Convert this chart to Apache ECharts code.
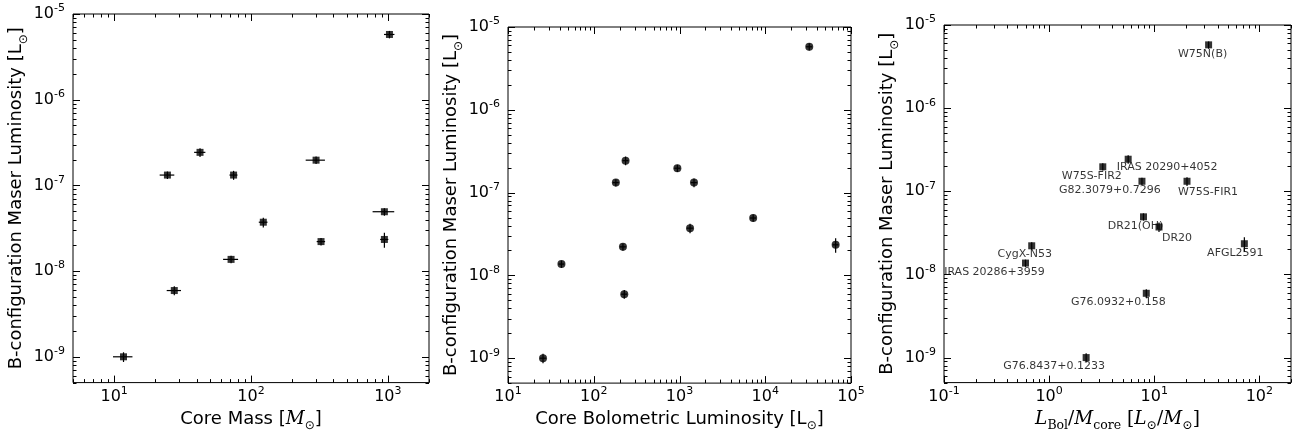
<!DOCTYPE html>
<html><head><meta charset="utf-8">
<script src="https://cdn.jsdelivr.net/npm/echarts@6/dist/echarts.min.js"></script>
<style>html,body{margin:0;padding:0;background:#fff}#c{width:1303px;height:437px}</style>
</head><body><div id="c"></div>
<script>
// ---- data ----
const names = ['W75N(B)','IRAS 20290+4052','W75S-FIR2','G82.3079+0.7296','W75S-FIR1','DR21(OH)','DR20','AFGL2591','CygX-N53','IRAS 20286+3959','G76.0932+0.158','G76.8437+0.1233'];
const coreMass    = [1028, 42.4, 299, 24.5, 74.6, 944, 123, 944, 325, 71.5, 27.5, 11.7];
const coreMassErr = [90, 4, 48, 3, 5, 170, 9, 65, 23, 9, 3.3, 1.9];
const coreLbol    = [32600, 235, 944, 181, 1476, 7230, 1327, 66200, 219, 42, 227, 25.6];
const coreLbolErrFrac = [0.08, 0.08, 0.08, 0.08, 0.08, 0.08, 0.08, 0.08, 0.08, 0.08, 0.08, 0.08];
const lbolPerMass = [32.9, 5.65, 3.24, 7.64, 20.5, 7.9, 11.1, 72, 0.683, 0.596, 8.4, 2.25];
const maserLum    = [5.77e-6, 2.43e-7, 1.97e-7, 1.32e-7, 1.32e-7, 4.93e-8, 3.72e-8, 2.34e-8, 2.21e-8, 1.37e-8, 5.93e-9, 1.0e-9];
const maserLumErrFrac = [0.1, 0.12, 0.1, 0.1, 0.12, 0.1, 0.13, 0.2, 0.1, 0.1, 0.12, 0.13];
const yRange  = [5e-10, 1e-5];
const xRange1 = [5, 2000];
const xRange2 = [10, 1e5];
const xRange3 = [0.1, 200];

// ---- styling / layout ----
const labelOffsets = [[-6,9],[39,8],[-11,9],[-32,9],[21,11],[-8,9],[18,11],[-9,9],[-7,8],[-31,9],[-28,9],[-32,9]];
const SANS = 'DejaVu Sans', SERIF = 'DejaVu Serif';
const grids = [
  {left: 73, top: 14, width: 356, height: 373},
  {left: 508, top: 27, width: 343, height: 357},
  {left: 944, top: 25, width: 347, height: 363}
];

function powLabel(v){
  const e = Math.log10(v), r = Math.round(e);
  if (Math.abs(e - r) > 1e-6) return '';
  return '{b|10}{s|' + r + '}';
}
const tickRich = {
  b: {fontFamily: SANS, fontSize: 16, color: '#000', lineHeight: 22},
  s: {fontFamily: SANS, fontSize: 11, color: '#000', lineHeight: 12, verticalAlign: 'top'}
};
const titleRich = {
  t: {fontFamily: SANS, fontSize: 18, color: '#000', lineHeight: 26},
  mi: {fontFamily: SERIF, fontStyle: 'italic', fontSize: 18.5, color: '#000', lineHeight: 26},
  mr: {fontFamily: SERIF, fontSize: 18.5, color: '#000', lineHeight: 26},
  sub: {fontFamily: SANS, fontSize: 12, color: '#000', lineHeight: 12, verticalAlign: 'bottom'},
  subs: {fontFamily: SERIF, fontSize: 12.5, color: '#000', lineHeight: 12, verticalAlign: 'bottom'}
};

function xAxisDef(gi, r, name, gap){
  return {type: 'log', logBase: 10, gridIndex: gi, min: r[0], max: r[1],
    axisLine: {show: false}, axisTick: {show: false}, splitLine: {show: false}, minorTick: {show: false},
    axisLabel: {formatter: powLabel, rich: tickRich, margin: 3, showMinLabel: true, showMaxLabel: true},
    name: name, nameLocation: 'middle', nameGap: gap, nameTextStyle: {rich: titleRich}};
}
function yAxisDef(gi, name, gap){
  return {type: 'log', logBase: 10, gridIndex: gi, min: yRange[0], max: yRange[1],
    axisLine: {show: false}, axisTick: {show: false}, splitLine: {show: false},
    axisLabel: {formatter: powLabel, rich: tickRich, margin: 8},
    name: name, nameLocation: 'middle', nameGap: gap, nameRotate: 90, nameTextStyle: {rich: titleRich}};
}

function logTicks(r){
  const out = [];
  for (let k = Math.floor(Math.log10(r[0])) - 1; k <= Math.ceil(Math.log10(r[1])); k++) {
    for (let m = 1; m <= 9; m++) {
      const v = m * Math.pow(10, k);
      if (v >= r[0] * (1 - 1e-9) && v <= r[1] * (1 + 1e-9)) out.push([v, m === 1 ? 1 : 0]);
    }
  }
  return out;
}
function tickSeries(gi, xr, yr){
  const data = [];
  logTicks(xr).forEach(t => data.push([t[0], yr[0], 0, t[1]]));
  logTicks(yr).forEach(t => data.push([xr[0], t[0], 1, t[1]]));
  return {type: 'custom', xAxisIndex: gi, yAxisIndex: gi, clip: false, silent: true, z: 3, data: data,
    renderItem: function(params, api){
      const kind = api.value(2), major = api.value(3);
      const len = major ? 7 : 3.5;
      const p0 = api.coord([xr[0], yr[0]]), p1 = api.coord([xr[1], yr[1]]);
      const st = {stroke: '#000', lineWidth: 1};
      if (kind === 0) {
        const x = Math.round(api.coord([api.value(0), yr[0]])[0]) + 0.5;
        return {type: 'group', children: [
          {type: 'line', shape: {x1: x, y1: p0[1], x2: x, y2: p0[1] - len}, style: st},
          {type: 'line', shape: {x1: x, y1: p1[1], x2: x, y2: p1[1] + len}, style: st}]};
      } else {
        const y = Math.round(api.coord([xr[0], api.value(1)])[1]) + 0.5;
        return {type: 'group', children: [
          {type: 'line', shape: {x1: p0[0], y1: y, x2: p0[0] + len, y2: y}, style: st},
          {type: 'line', shape: {x1: p1[0], y1: y, x2: p1[0] - len, y2: y}, style: st}]};
      }
    }};
}
function errSeries(gi, xs, xlo, xhi, ys, ylo, yhi){
  const data = xs.map((x, i) => [x, ys[i], xlo[i], xhi[i], ylo[i], yhi[i]]);
  return {type: 'custom', xAxisIndex: gi, yAxisIndex: gi, clip: false, silent: true, z: 4, data: data,
    renderItem: function(params, api){
      const x = api.value(0), y = api.value(1);
      const st = {stroke: '#000', lineWidth: 1.2};
      const a = api.coord([api.value(2), y]), b = api.coord([api.value(3), y]);
      const c = api.coord([x, api.value(4)]), d = api.coord([x, api.value(5)]);
      return {type: 'group', children: [
        {type: 'line', shape: {x1: a[0], y1: a[1], x2: b[0], y2: b[1]}, style: st},
        {type: 'line', shape: {x1: c[0], y1: c[1], x2: d[0], y2: d[1]}, style: st}]};
    }};
}

const yLo = maserLum.map((v, i) => v * (1 - maserLumErrFrac[i]));
const yHi = maserLum.map((v, i) => v * (1 + maserLumErrFrac[i]));
const yTitle = '{t|B-configuration Maser Luminosity [L}{sub|⊙}{t|]}';

const option = {
  animation: false,
  backgroundColor: '#fff',
  grid: grids.map(g => Object.assign({show: true, borderColor: '#000', borderWidth: 1, backgroundColor: 'transparent'}, g)),
  xAxis: [
    xAxisDef(0, xRange1, '{t|Core Mass [}{mi|M}{sub|⊙}{t|]}', 22),
    xAxisDef(1, xRange2, '{t|Core Bolometric Luminosity [L}{sub|⊙}{t|]}', 22),
    xAxisDef(2, xRange3, '{mi|L}{subs|Bol}{mr|/}{mi|M}{subs|core}{mr| [}{mi|L}{subs|⊙}{mr|/}{mi|M}{subs|⊙}{mr|]}', 22)
  ],
  yAxis: [yAxisDef(0, yTitle, 42), yAxisDef(1, yTitle, 42), yAxisDef(2, yTitle, 42)],
  series: [
    tickSeries(0, xRange1, yRange), tickSeries(1, xRange2, yRange), tickSeries(2, xRange3, yRange),
    errSeries(0, coreMass, coreMass.map((v, i) => v - coreMassErr[i]), coreMass.map((v, i) => v + coreMassErr[i]), maserLum, yLo, yHi),
    errSeries(1, coreLbol, coreLbol.map((v, i) => v * (1 - coreLbolErrFrac[i])), coreLbol.map((v, i) => v * (1 + coreLbolErrFrac[i])), maserLum, yLo, yHi),
    errSeries(2, lbolPerMass, lbolPerMass, lbolPerMass, maserLum, yLo, yHi),
    {type: 'scatter', xAxisIndex: 0, yAxisIndex: 0, symbol: 'rect', symbolSize: 7, itemStyle: {color: '#000'}, z: 6,
      data: coreMass.map((x, i) => [x, maserLum[i]])},
    {type: 'scatter', xAxisIndex: 1, yAxisIndex: 1, symbol: 'circle', symbolSize: 8, itemStyle: {color: '#000'}, z: 6,
      data: coreLbol.map((x, i) => [x, maserLum[i]])},
    {type: 'scatter', xAxisIndex: 2, yAxisIndex: 2, symbol: 'rect', symbolSize: 7, itemStyle: {color: '#000'}, z: 6,
      data: lbolPerMass.map((x, i) => ({value: [x, maserLum[i]],
        label: {show: true, formatter: names[i], position: 'inside', offset: labelOffsets[i],
          fontFamily: SANS, fontSize: 11, color: '#000', align: 'center', verticalAlign: 'middle'}}))}
  ]
};
const chart = echarts.init(document.getElementById('c'), null, {renderer: 'canvas'});
chart.setOption(option);
</script></body></html>
